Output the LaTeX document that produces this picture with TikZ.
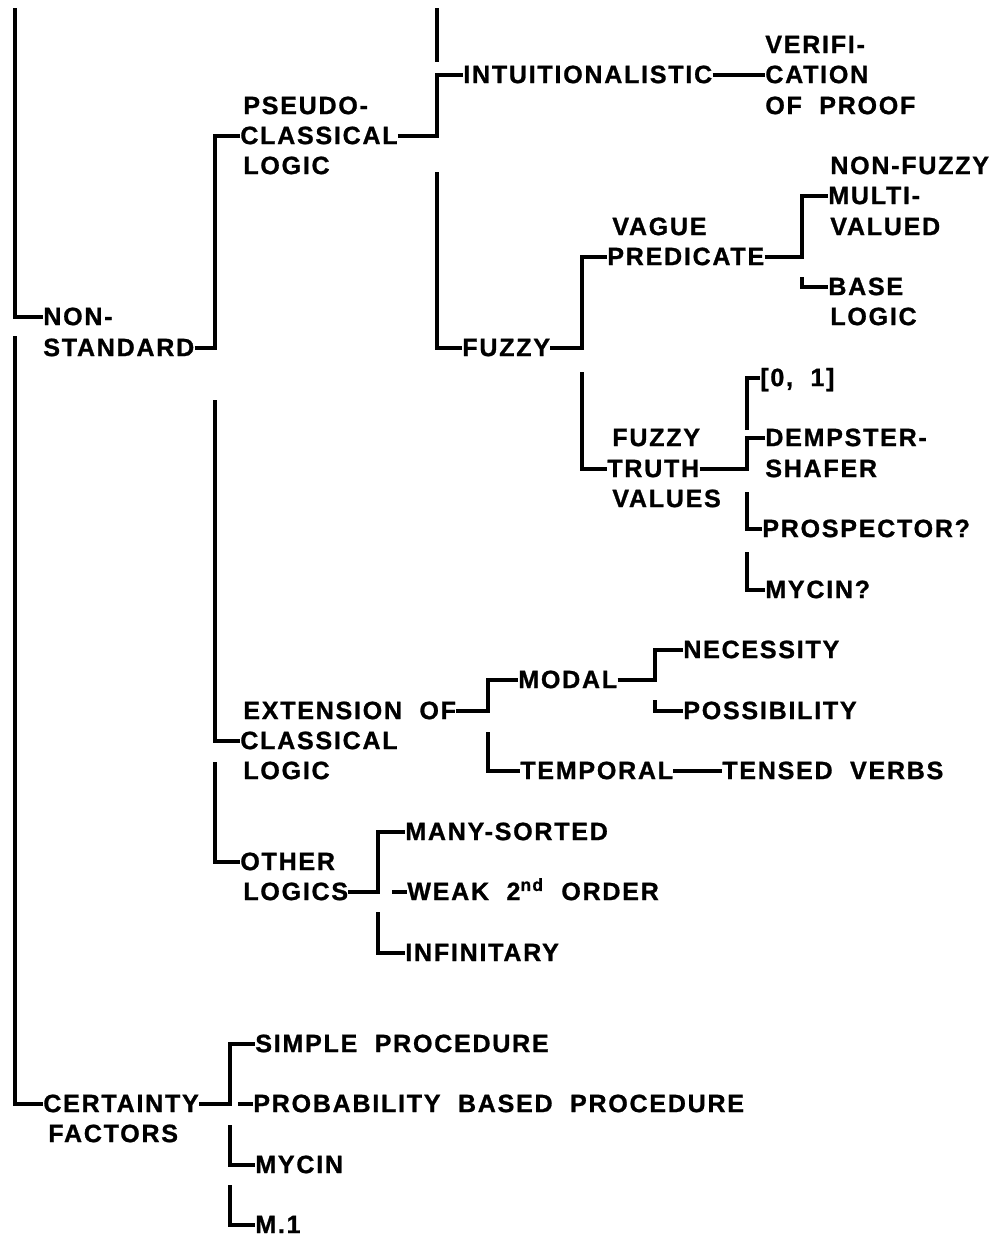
\documentclass[tikz,border=0pt]{standalone}
\usepackage{fontspec}
\newfontfamily\plotfont{Liberation Sans Bold}[LetterSpace=7,WordSpace=2,FakeBold=1]
\begin{document}
\begin{tikzpicture}[x=0.02cm,y=-0.02cm,
  lbl/.style={anchor=west,inner sep=0pt,
    font=\plotfont\fontsize{14.25}{16}\selectfont,
    text height=10.2pt,text depth=1pt},
  wire/.style={line width=2pt,line join=miter}]
\useasboundingbox (0,0) rectangle (1001,1238);

% ---- labels ----
\node[lbl] (non)  at (43,317)  {NON-};
\node[lbl] (std)  at (43,348)  {STANDARD};
\node[lbl] (pse)  at (243,106) {PSEUDO-};
\node[lbl] (pcl)  at (240,136) {CLASSICAL};
\node[lbl] (plo)  at (243,166) {LOGIC};
\node[lbl] (int)  at (463,75)  {INTUITIONALISTIC};
\node[lbl] (ver)  at (765,45)  {VERIFI-};
\node[lbl] (cat)  at (765,75)  {CATION};
\node[lbl] (ofp)  at (765,106) {OF PROOF};
\node[lbl] (fuz)  at (462,348) {FUZZY};
\node[lbl] (vag)  at (612,227) {VAGUE};
\node[lbl] (pre)  at (607,257) {PREDICATE};
\node[lbl] (nfz)  at (830,166) {NON-FUZZY};
\node[lbl] (mul)  at (828,196) {MULTI-};
\node[lbl] (val)  at (830,227) {VALUED};
\node[lbl] (bas)  at (828,287) {BASE};
\node[lbl] (blo)  at (830,317) {LOGIC};
\node[lbl] (ftv)  at (612,438) {FUZZY};
\node[lbl] (tru)  at (607,469) {TRUTH};
\node[lbl] (vls)  at (612,499) {VALUES};
\node[lbl] (zo)   at (760,378) {[0, 1]};
\node[lbl] (dem)  at (765,438) {DEMPSTER-};
\node[lbl] (sha)  at (765,469) {SHAFER};
\node[lbl] (pro)  at (762,529) {PROSPECTOR?};
\node[lbl] (myq)  at (765,590) {MYCIN?};
\node[lbl] (ext)  at (243,711) {EXTENSION OF};
\node[lbl] (ecl)  at (240,741) {CLASSICAL};
\node[lbl] (elo)  at (243,771) {LOGIC};
\node[lbl] (mod)  at (518,680) {MODAL};
\node[lbl] (nec)  at (683,650) {NECESSITY};
\node[lbl] (pos)  at (683,711) {POSSIBILITY};
\node[lbl] (tem)  at (520,771) {TEMPORAL};
\node[lbl] (ten)  at (722,771) {TENSED VERBS};
\node[lbl] (oth)  at (240,862) {OTHER};
\node[lbl] (olo)  at (243,892) {LOGICS};
\node[lbl] (man)  at (405,832) {MANY-SORTED};
\node[lbl] (wea)  at (407,892) {WEAK 2\textsuperscript{nd} ORDER};
\node[lbl] (inf)  at (405,953) {INFINITARY};
\node[lbl] (cer)  at (43,1104) {CERTAINTY};
\node[lbl] (fac)  at (48,1134) {FACTORS};
\node[lbl] (sim)  at (255,1044) {SIMPLE PROCEDURE};
\node[lbl] (prb)  at (253,1104) {PROBABILITY BASED PROCEDURE};
\node[lbl] (myc)  at (255,1165) {MYCIN};
\node[lbl] (mone) at (255,1225) {M.1};

% ---- trunk columns ----
\coordinate (k1) at (15,0);
\coordinate (k2) at (215,0);
\coordinate (k3) at (437,0);
\coordinate (k4) at (582,0);
\coordinate (k5) at (802,0);
\coordinate (k6) at (747,0);
\coordinate (k7) at (488,0);
\coordinate (k8) at (655,0);
\coordinate (k9) at (378,0);
\coordinate (k10) at (230,0);

% root
\coordinate (t1) at (15,8);
\draw[wire] (t1) |- (non.west);
\coordinate (t2) at (15,336);
\draw[wire] (t2) |- (cer.west);

% non-standard
\draw[wire] (std.east) -| (pcl.west -| k2) -- (pcl.west);
\coordinate (t3) at (215,400);
\draw[wire] (t3) |- (ecl.west);
\coordinate (t4) at (215,762);
\draw[wire] (t4) |- (oth.west);

% pseudo-classical logic
\coordinate (t5) at (437,8);
\coordinate (t5b) at (437,62);
\draw[wire] (t5) -- (t5b);
\draw[wire] (pcl.east) -| (int.west -| k3) -- (int.west);
\coordinate (t6) at (437,172);
\draw[wire] (t6) |- (fuz.west);
\draw[wire] (int.east) -- (cat.west);

% fuzzy
\draw[wire] (fuz.east) -| (pre.west -| k4) -- (pre.west);
\coordinate (t7) at (582,372);
\draw[wire] (t7) |- (tru.west);

% vague predicate
\draw[wire] (pre.east) -| (mul.west -| k5) -- (mul.west);
\coordinate (t8) at (802,277);
\draw[wire] (t8) |- (bas.west);

% fuzzy truth values
\coordinate (t9) at (747,430);
\draw[wire] (t9) |- (zo.west);
\draw[wire] (tru.east) -| (dem.west -| k6) -- (dem.west);
\coordinate (t10) at (747,492);
\draw[wire] (t10) |- (pro.west);
\coordinate (t11) at (747,552);
\draw[wire] (t11) |- (myq.west);

% extension of classical logic
\draw[wire] (ext.east) -| (mod.west -| k7) -- (mod.west);
\coordinate (t12) at (488,732);
\draw[wire] (t12) |- (tem.west);
\draw[wire] (mod.east) -| (nec.west -| k8) -- (nec.west);
\coordinate (t13) at (655,700);
\draw[wire] (t13) |- (pos.west);
\draw[wire] (tem.east) -- (ten.west);

% other logics
\draw[wire] (olo.east) -| (man.west -| k9) -- (man.west);
\coordinate (t14) at (392,892);
\draw[wire] (t14) -- (wea.west);
\coordinate (t15) at (378,912);
\draw[wire] (t15) |- (inf.west);

% certainty factors
\draw[wire] (cer.east) -| (sim.west -| k10) -- (sim.west);
\coordinate (t16) at (238,1104);
\draw[wire] (t16) -- (prb.west);
\coordinate (t17) at (230,1125);
\draw[wire] (t17) |- (myc.west);
\coordinate (t18) at (230,1185);
\draw[wire] (t18) |- (mone.west);
\end{tikzpicture}
\end{document}
